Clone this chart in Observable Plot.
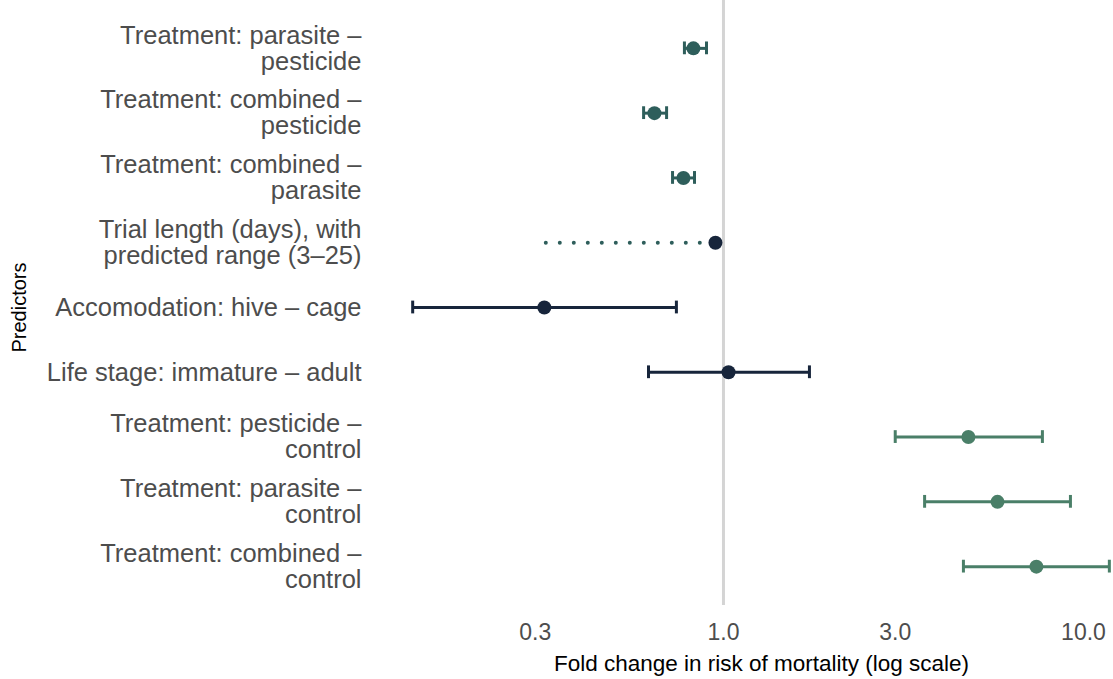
<!DOCTYPE html>
<html>
<head>
<meta charset="utf-8">
<script src="https://cdn.jsdelivr.net/npm/d3@7"></script>
<script src="https://cdn.jsdelivr.net/npm/@observablehq/plot@0.6"></script>
<style>
  html, body { margin: 0; padding: 0; background: #fff; }
  #chart svg { font-family: "Liberation Sans", Arial, Helvetica, sans-serif; }
</style>
</head>
<body>
<div id="chart"></div>
<script>
const predictors = [
  "Treatment: parasite –\npesticide",
  "Treatment: combined –\npesticide",
  "Treatment: combined –\nparasite",
  "Trial length (days), with\npredicted range (3–25)",
  "Accomodation: hive – cage",
  "Life stage: immature – adult",
  "Treatment: pesticide –\ncontrol",
  "Treatment: parasite –\ncontrol",
  "Treatment: combined –\ncontrol"
];
const estimate = [0.825, 0.643, 0.774, 0.950, 0.318, 1.033, 4.79, 5.77, 7.40];
const lower    = [0.779, 0.600, 0.722, null, 0.137, 0.619, 3.00, 3.62, 4.64];
const upper    = [0.897, 0.695, 0.831, null, 0.740, 1.733, 7.69, 9.20, 11.8];
const group    = ["pairwise", "pairwise", "pairwise", "covariate", "covariate", "covariate", "control", "control", "control"];
// predicted range for trial length (fold change at 3 days .. 25 days)
const rangeLabel = ["Trial length (days), with\npredicted range (3–25)"];
const rangeFrom = [0.322];
const rangeTo = [0.95];
const xTicks = [0.3, 1, 3, 10];

const groupColors = {pairwise: "#2e5e5b", covariate: "#17253b", control: "#4a7f68"};

const rows = predictors.map((p, i) => ({
  predictor: p, est: estimate[i], lo: lower[i], hi: upper[i], group: group[i]
}));
const ci = rows.filter(d => d.lo != null);
const ranges = rangeLabel.map((p, i) => ({predictor: p, from: rangeFrom[i], to: rangeTo[i]}));

const capInset = 26;

const chart = Plot.plot({
  width: 1113,
  height: 679,
  marginLeft: 410,
  marginRight: 1,
  marginTop: 9,
  marginBottom: 74,
  style: {fontFamily: "Liberation Sans, Arial, Helvetica, sans-serif", background: "#fff"},
  x: {type: "log", domain: [0.1351, 12.04]},
  y: {type: "band", domain: predictors, paddingInner: 0, paddingOuter: 0.1, round: false},
  marks: [
    Plot.ruleX([1], {stroke: "#d4d4d4", strokeWidth: 3, insetTop: -9}),
    Plot.ruleY(ranges, {y: "predictor", x1: "from", x2: "to", stroke: groupColors.pairwise,
      strokeWidth: 4, strokeDasharray: "0,14", strokeLinecap: "round"}),
    Plot.ruleY(ci, {y: "predictor", x1: "lo", x2: "hi", stroke: d => groupColors[d.group], strokeWidth: 3}),
    Plot.tickX(ci, {x: "lo", y: "predictor", stroke: d => groupColors[d.group], strokeWidth: 3, insetTop: capInset, insetBottom: capInset}),
    Plot.tickX(ci, {x: "hi", y: "predictor", stroke: d => groupColors[d.group], strokeWidth: 3, insetTop: capInset, insetBottom: capInset}),
    Plot.dot(rows, {x: "est", y: "predictor", r: 7, fill: d => groupColors[d.group], stroke: "none"}),
    Plot.axisX({ticks: xTicks, tickFormat: d3.format(".1f"), tickSize: 0, tickPadding: 18,
      fontSize: 23, color: "#4d4d4d", label: null}),
    Plot.axisX({ticks: [], tickSize: 0, label: "Fold change in risk of mortality (log scale)",
      labelAnchor: "center", labelArrow: "none", labelOffset: 65, fontSize: 22.5, color: "#000"}),
    Plot.axisY({tickSize: 0, tickPadding: 49, fontSize: 25.5, lineHeight: 1.02, color: "#4d4d4d", label: null}),
    Plot.axisY({ticks: [], tickSize: 0, label: "Predictors", labelAnchor: "center", labelArrow: "none",
      labelOffset: 399, fontSize: 20, color: "#000"})
  ]
});
document.getElementById("chart").appendChild(chart);
</script>
</body>
</html>
